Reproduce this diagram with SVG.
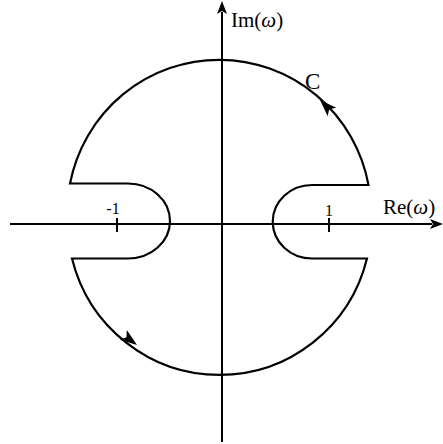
<svg xmlns="http://www.w3.org/2000/svg" width="443" height="444" viewBox="0 0 443 444">
<style>
.ln{fill:none;stroke:#000;stroke-width:2.2}
.ax{fill:none;stroke:#000;stroke-width:2}
.ah{fill:#000;stroke:none}
.t{font-family:"Liberation Serif","Times New Roman",serif;fill:#000}
</style>
<rect width="443" height="444" fill="#fff"/>
<g id="axes">
<line class="ax" x1="10" y1="224" x2="432" y2="224"/>
<polygon class="ah" points="443,224 430,219 433,224 430,229"/>
<line class="ax" x1="222" y1="442" x2="222" y2="12"/>
<polygon class="ah" points="222,1 217,14 222,11 227,14"/>
<line class="ax" x1="117" y1="218" x2="117" y2="232"/>
<line class="ax" x1="329" y1="218" x2="329" y2="232"/>
</g>
<g id="contour">
<path class="ln" d="M70,183.5 H128 A42,37.5 0 0 1 128,258.5 H72 A152,153.5 0 0 0 367,258.5 H312 A39,36.5 0 0 1 312,185 H368.5 A152,153.5 0 0 0 70,183.5 Z"/>
<polygon class="ah" transform="translate(320,100) rotate(-134.7)" points="0,0 -17,-6 -13,0 -17,6"/>
<polygon class="ah" transform="translate(137,345) rotate(36.2)" points="0,0 -17,-6 -13,0 -17,6"/>
</g>
<g id="labels">
<text class="t" x="231" y="27" font-size="21">Im(<tspan font-style="italic">ω</tspan>)</text>
<text class="t" x="383" y="214" font-size="21">Re(<tspan font-style="italic">ω</tspan>)</text>
<text class="t" x="305" y="89" font-size="23">C</text>
<text class="t" x="113" y="214" font-size="16" text-anchor="middle">-1</text>
<text class="t" x="329" y="216" font-size="16" text-anchor="middle">1</text>
</g>
</svg>
